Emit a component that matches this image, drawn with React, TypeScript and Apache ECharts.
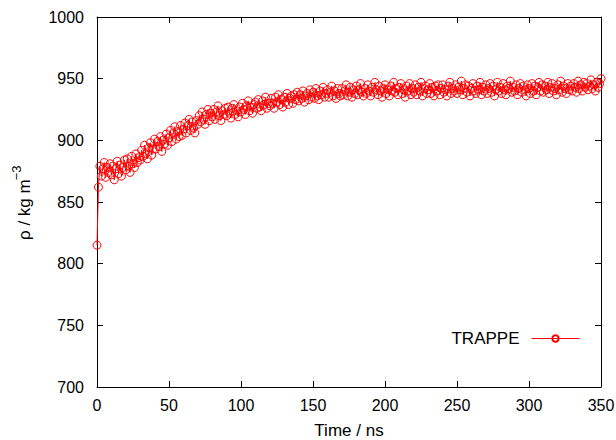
import React, { useEffect, useRef } from "react";
import * as echarts from "echarts";

const timeStepNs = 1;
const density: number[] = [
  815, 862, 879, 871, 877, 882, 870, 878, 874, 881,
  872, 879, 868, 877, 883, 873, 880, 871, 878, 884,
  876, 885, 879, 874, 887, 881, 878, 889, 882, 886,
  884, 892, 887, 896, 889, 885, 894, 898, 888, 893,
  901, 893, 899, 895, 903, 891, 900, 897, 905, 896,
  902, 908, 899, 906, 911, 901, 907, 903, 912, 904,
  909, 914, 906, 912, 917, 908, 915, 910, 906, 916,
  913, 920, 915, 923, 917, 913, 921, 925, 916, 922,
  919, 925, 917, 923, 928, 920, 916, 924, 921, 926,
  920, 927, 922, 918, 926, 929, 921, 924, 919, 927,
  923, 930, 925, 921, 928, 932, 924, 927, 922, 929,
  931, 926, 933, 927, 924, 932, 929, 935, 926, 930,
  928, 934, 930, 926, 935, 931, 937, 929, 933, 927,
  935, 931, 938, 929, 934, 936, 930, 937, 933, 939,
  932, 937, 934, 940, 931, 936, 938, 933, 941, 935,
  939, 934, 942, 936, 933, 940, 937, 943, 935, 938,
  941, 935, 939, 944, 936, 940, 934, 942, 938, 936,
  942, 937, 940, 945, 936, 939, 943, 935, 941, 938,
  944, 937, 941, 946, 939, 936, 942, 938, 945, 940,
  936, 943, 939, 947, 941, 937, 944, 940, 935, 942,
  945, 938, 941, 936, 944, 940, 947, 939, 942, 937,
  943, 946, 938, 941, 935, 944, 940, 946, 937, 942,
  939, 945, 937, 943, 940, 947, 936, 942, 944, 938,
  941, 946, 938, 943, 936, 944, 940, 945, 937, 942,
  945, 939, 941, 936, 944, 947, 938, 942, 940, 945,
  938, 943, 941, 948, 937, 942, 945, 939, 944, 936,
  942, 946, 940, 938, 944, 941, 947, 937, 943, 940,
  945, 938, 942, 946, 939, 944, 936, 941, 947, 940,
  943, 938, 946, 941, 937, 944, 942, 948, 939, 943,
  940, 945, 937, 942, 946, 939, 944, 941, 936, 945,
  942, 938, 946, 940, 944, 937, 943, 947, 940, 945,
  939, 944, 941, 947, 938, 943, 946, 940, 942, 937,
  945, 941, 948, 939, 944, 942, 938, 946, 941, 944,
  940, 946, 943, 939, 948, 942, 945, 940, 947, 943,
  946, 941, 944, 949, 942, 945, 940, 947, 943, 946,
  950,
];

const seriesName = "TRAPPE";
const xTitle = "Time / ns";
const yTitleMain = "ρ / kg m";
const yTitleSup = "−3";
const xMin = 0, xMax = 350, xStep = 50;
const yMin = 700, yMax = 1000, yStep = 50;

const FONT = "'Liberation Sans', Arial, Helvetica, sans-serif";

function measure(text: string, size: number): number {
  const c = document.createElement("canvas").getContext("2d");
  if (!c) return text.length * size * 0.55;
  c.font = `${size}px 'Liberation Sans', Arial, sans-serif`;
  return c.measureText(text).width;
}

export default function App() {
  const ref = useRef<HTMLDivElement>(null);
  useEffect(() => {
    if (!ref.current) return;
    const chart = echarts.init(ref.current, null, { renderer: "svg" });
    const points = density.map((v, i) => [i * timeStepNs, v]);
    const axisLine = { show: true, onZero: false, lineStyle: { color: "#000", width: 1 } };
    const tick = { show: true, inside: true, length: 6, lineStyle: { color: "#000", width: 1 } };
    const label = { color: "#000", fontSize: 16, fontFamily: FONT };
    const mainW = measure(yTitleMain, 17);
    chart.setOption({
      animation: false,
      color: ["#ff0000"],
      grid: {
        left: 97,
        right: 15,
        top: 17,
        bottom: 53,
        containLabel: false,
        outerBoundsMode: "none",
      },
      legend: {
        show: true,
        data: [seriesName],
        right: 31,
        top: 325,
        align: "right",
        itemWidth: 48,
        itemHeight: 8,
        selectedMode: false,
        lineStyle: { width: 1 },
        textStyle: { color: "#000", fontSize: 17, fontFamily: FONT, padding: [0, 7, 0, 0] },
      },
      graphic: [
        {
          type: "group",
          x: 29,
          y: 240,
          rotation: Math.PI / 2,
          silent: true,
          children: [
            {
              type: "text",
              x: 0,
              y: 4,
              style: {
                text: yTitleMain,
                fontSize: 17,
                fontFamily: FONT,
                fill: "#000",
                align: "left",
                verticalAlign: "bottom",
              },
            },
            {
              type: "text",
              x: mainW - 1,
              y: -6,
              style: {
                text: yTitleSup,
                fontSize: 13,
                fontFamily: FONT,
                fill: "#000",
                align: "left",
                verticalAlign: "bottom",
              },
            },
          ],
        },
      ],
      xAxis: [
        {
          type: "value",
          min: xMin,
          max: xMax,
          interval: xStep,
          position: "bottom",
          axisLine,
          axisTick: tick,
          splitLine: { show: false },
          axisLabel: { ...label, margin: 10, formatter: (v: number) => String(v) },
          name: xTitle,
          nameLocation: "middle",
          nameGap: 35,
          nameTextStyle: { color: "#000", fontSize: 17, fontFamily: FONT },
        },
        {
          type: "value",
          min: xMin,
          max: xMax,
          interval: xStep,
          position: "top",
          axisLine,
          axisTick: tick,
          splitLine: { show: false },
          axisLabel: { show: false },
        },
      ],
      yAxis: [
        {
          type: "value",
          min: yMin,
          max: yMax,
          interval: yStep,
          position: "left",
          axisLine,
          axisTick: tick,
          splitLine: { show: false },
          axisLabel: { ...label, margin: 13, formatter: (v: number) => String(v) },
        },
        {
          type: "value",
          min: yMin,
          max: yMax,
          interval: yStep,
          position: "right",
          axisLine,
          axisTick: tick,
          splitLine: { show: false },
          axisLabel: { show: false },
        },
      ],
      series: [
        {
          name: seriesName,
          type: "line",
          xAxisIndex: 0,
          yAxisIndex: 0,
          data: points,
          symbol: "circle",
          symbolSize: 8,
          showAllSymbol: true,
          lineStyle: { color: "#ff0000", width: 1 },
          itemStyle: { color: "rgba(0,0,0,0)", borderColor: "#ff0000", borderWidth: 1 },
          emphasis: { disabled: true },
          silent: true,
        },
      ],
    });
    return () => chart.dispose();
  }, []);
  return (
    <div
      ref={ref}
      style={{ position: "fixed", left: 0, top: 0, width: 616, height: 440, background: "#fff" }}
    />
  );
}
